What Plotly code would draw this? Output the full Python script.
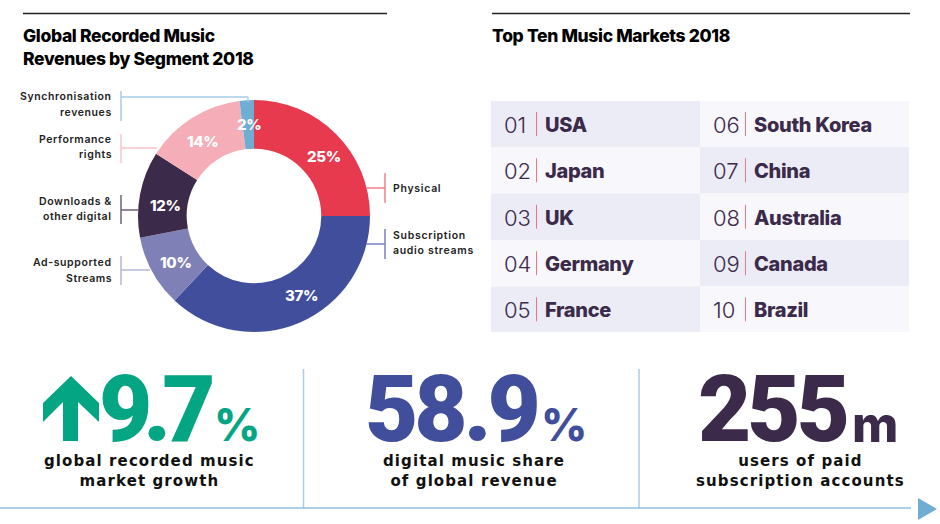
import plotly.graph_objects as go

# donut data
segments = ['Physical', 'Subscription audio streams', 'Ad-supported Streams',
            'Downloads & other digital', 'Performance rights', 'Synchronisation revenues']
shares = [25, 37, 10, 12, 14, 2]
colors = ['#E83A4F', '#414E9C', '#7F81B6', '#3B2A4A', '#F5AEB8', '#6FADD3']

# table data
ranks = ['01', '02', '03', '04', '05', '06', '07', '08', '09', '10']
markets = ['USA', 'Japan', 'UK', 'Germany', 'France',
           'South Korea', 'China', 'Australia', 'Canada', 'Brazil']

# headline figures
big_numbers = ['9.7', '58.9', '255']
big_units = ['%', '%', 'm']
big_colors = ['#04A582', '#414E9C', '#3B2A4A']
captions = [['global recorded music', 'market growth'],
            ['digital music share', 'of global revenue'],
            ['users of paid', 'subscription accounts']]

W, H = 940, 524
HEAD = 'Inter'
LABEL = 'DejaVu Sans'
DARK = '#3B2A4A'

fig = go.Figure()

fig.add_trace(go.Pie(
    labels=segments, values=shares, textinfo='none',
    marker=dict(colors=colors),
    hole=0.58, sort=False, direction='clockwise', rotation=0,
    domain=dict(x=[138 / W, 370 / W], y=[1 - 332 / H, 1 - 100 / H]),
    showlegend=False,
))


def line(x0, y0, x1, y1, color, width=1.5):
    fig.add_shape(type='line', x0=x0, y0=y0, x1=x1, y1=y1, xref='x', yref='y',
                  line=dict(color=color, width=width), layer='above')


def spaced(s, px):
    return f'<span style="letter-spacing:{px}px">{s}</span>'


def text(x, y, s, size, color='black', anchor='left', family=HEAD, weight=700, **kw):
    fig.add_annotation(x=x, y=y, text=s, xref='x', yref='y', showarrow=False,
                       xanchor=anchor, yanchor='middle', align=anchor,
                       borderpad=0, borderwidth=0,
                       font=dict(family=family, size=size, color=color, weight=weight), **kw)


# top rules and titles
line(23, 13.5, 387, 13.5, '#222222')
line(492, 13.5, 910, 13.5, '#222222')
text(23, 35, spaced('Global Recorded Music', -0.35), 17.5, weight=800)
text(23, 58, spaced('Revenues by Segment 2018', -0.35), 17.5, weight=800)
text(492, 35, spaced('Top Ten Music Markets 2018', -0.35), 17.5, weight=800)

# leader lines
line(121, 91, 121, 121, '#A6CDE4')
line(121, 97, 248, 97, '#A6CDE4')
line(248, 97, 248, 102, '#A6CDE4')
line(121, 134, 121, 163, '#F8C4CC')
line(121, 148, 157, 148, '#F8C4CC')
line(121, 195, 121, 224, '#6E6079')
line(121, 210, 139, 210, '#6E6079')
line(121, 256, 121, 285, '#B3B5D8')
line(121, 270, 150, 270, '#B3B5D8')
line(385, 173, 385, 203, '#F27F8C')
line(366, 188, 385, 188, '#F27F8C')
line(385, 229, 385, 259, '#7683C0')
line(366, 244, 385, 244, '#7683C0')

# segment labels
for y, s in [(96, 'Synchronisation'), (112, 'revenues'), (139, 'Performance'), (154, 'rights'),
             (201, 'Downloads &'), (216, 'other digital'), (262, 'Ad-supported'), (278, 'Streams')]:
    text(112, y, spaced(s, 0.6), 10.5, '#222222', 'right', HEAD, 600)
for y, s in [(188, 'Physical'), (235, 'Subscription'), (250, 'audio streams')]:
    text(393, y, spaced(s, 0.7), 10.5, '#222222', 'left', HEAD, 600)

# percent labels on the ring
pct_x = [324, 301, 176, 165, 203, 249]
pct_y = [156, 295, 262, 205, 141, 124]
for v, px, py in zip(shares, pct_x, pct_y):
    text(px, py, spaced(f'{v}%', -0.3), 15, 'white', 'center', HEAD, 800)

# table
row_edges = [101, 147, 193.5, 240, 286.5, 332]
for i, (rank, market) in enumerate(zip(ranks, markets)):
    col, row = i // 5, i % 5
    x0 = 491 + col * 209
    shade = '#ECECF6' if (row + col) % 2 == 0 else '#F7F7FC'
    fig.add_shape(type='rect', x0=x0, x1=x0 + 209, y0=row_edges[row], y1=row_edges[row + 1],
                  xref='x', yref='y', fillcolor=shade, line_width=0, layer='below')
    mid = (row_edges[row] + row_edges[row + 1]) / 2
    text(x0 + 13, mid + 1, rank, 22, DARK, weight=300)
    line(x0 + 45.5, mid - 12, x0 + 45.5, mid + 12, '#EE7486', 1)
    text(x0 + 54, mid + 1, spaced(market, -0.3), 20, DARK, weight=800)

# bottom figures
fig.add_shape(type='path', path='M 71 376 L 99 403 L 99 422 L 78 402 L 78 441 L 63 441 L 63 402 L 43 422 L 43 403 Z',
              xref='x', yref='y', fillcolor=big_colors[0], line_width=0)
num_right = [212, 537, 847]
num_track = [-9, -4, -4]
unit_left = [214, 541, 852]
unit_size = [45, 45, 50]
cap_x = [149, 474, 800]
for i in range(3):
    text(num_right[i], 409, spaced(big_numbers[i], num_track[i]), 92, big_colors[i], 'right',
         'Roboto', 900, height=76)
    text(unit_left[i], 424, big_units[i], unit_size[i], big_colors[i], 'left', HEAD, 800, height=44)
    text(cap_x[i], 471, '<br>'.join(spaced(s, 1.1) for s in captions[i]), 15, '#111111', 'center', LABEL, 700)

line(303.5, 369, 303.5, 508, '#A8CFE8', 1.5)
line(639, 369, 639, 508, '#A8CFE8', 1.5)
line(0, 508, 911, 508, '#8DC0E0', 1.5)
fig.add_shape(type='path', path='M 918 498 L 937 509 L 918 520 Z', xref='x', yref='y',
              fillcolor='#6FADD3', line_width=0)

fig.update_layout(
    width=W, height=H, autosize=False,
    margin=dict(l=0, r=0, t=0, b=0),
    paper_bgcolor='white', plot_bgcolor='rgba(0,0,0,0)',
    xaxis=dict(range=[0, W], visible=False, fixedrange=True),
    yaxis=dict(range=[H, 0], visible=False, fixedrange=True),
)

fig.write_html("out.html", config={'displayModeBar': False},
               post_script="document.body.style.margin='0';")
